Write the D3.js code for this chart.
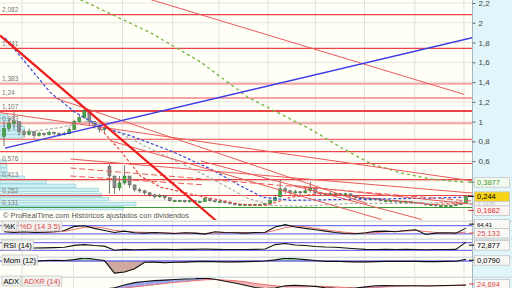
<!DOCTYPE html>
<html>
<head>
  <meta charset="UTF-8">
  <style>
    body { margin: 0; background: #fff; }
    svg { display: block; font-family: "Liberation Sans", Arial, sans-serif; }
  </style>
</head>
<body>
  <svg></svg>
  <script src="https://d3js.org/d3.v7.min.js"></script>
  <script>

    // ---- price data (one candle every ~5px) ----
    let opens = [0.85,0.93,0.98,1.0,0.9,0.87,0.9,0.86,0.88,0.87,
      0.89,0.88,0.87,0.88,0.92,1.0,1.04,1.11,1.0,0.96,
      0.92,0.55,0.45,0.33,0.38,0.45,0.36,0.31,0.3,0.28,
      0.26,0.24,0.25,0.23,0.2,0.2,0.2,0.19,0.2,0.19,
      0.19,0.22,0.2,0.19,0.19,0.18,0.17,0.16,0.16,0.16,
      0.16,0.16,0.16,0.17,0.2,0.24,0.32,0.3,0.28,0.29,
      0.28,0.3,0.33,0.28,0.27,0.27,0.27,0.27,0.26,0.27,
      0.25,0.23,0.22,0.21,0.22,0.21,0.2,0.2,0.2,0.19,
      0.19,0.19,0.18,0.18,0.17,0.16,0.16,0.15,0.15,0.15,
      0.15,0.16,0.17];
    let highs = [1.0,1.03,1.1,0.98,0.92,0.93,0.9,0.9,0.89,0.91,
      0.9,0.89,0.9,0.95,1.02,1.07,1.14,1.08,1.0,0.96,
      0.95,0.57,0.42,0.45,0.56,0.43,0.36,0.33,0.31,0.29,
      0.27,0.27,0.25,0.23,0.21,0.21,0.21,0.21,0.2,0.2,
      0.24,0.22,0.2,0.2,0.19,0.18,0.17,0.17,0.17,0.17,
      0.17,0.17,0.18,0.22,0.26,0.41,0.34,0.31,0.31,0.3,
      0.33,0.39,0.31,0.29,0.28,0.29,0.28,0.28,0.28,0.27,
      0.25,0.24,0.23,0.23,0.22,0.22,0.21,0.21,0.2,0.2,
      0.2,0.19,0.19,0.18,0.17,0.17,0.16,0.16,0.16,0.16,
      0.17,0.18,0.25];
    let lows = [0.75,0.9,0.92,0.86,0.84,0.86,0.83,0.85,0.85,0.86,
      0.86,0.85,0.86,0.87,0.92,0.99,1.03,0.96,0.93,0.89,
      0.88,0.27,0.27,0.3,0.36,0.33,0.29,0.28,0.26,0.24,
      0.22,0.23,0.21,0.19,0.19,0.19,0.18,0.18,0.18,0.18,
      0.19,0.19,0.18,0.18,0.17,0.16,0.15,0.15,0.15,0.15,
      0.15,0.15,0.15,0.16,0.2,0.23,0.27,0.26,0.27,0.26,
      0.27,0.28,0.26,0.25,0.25,0.26,0.25,0.25,0.25,0.23,
      0.21,0.21,0.2,0.2,0.2,0.19,0.19,0.18,0.18,0.18,
      0.18,0.17,0.17,0.16,0.15,0.15,0.14,0.14,0.14,0.14,
      0.15,0.16,0.17];
    let closes = [0.93,0.98,1.0,0.9,0.87,0.9,0.86,0.88,0.87,0.89,
      0.88,0.87,0.88,0.92,1.0,1.04,1.11,1.0,0.96,0.92,
      0.93,0.45,0.33,0.38,0.45,0.36,0.31,0.3,0.28,0.26,
      0.24,0.25,0.23,0.2,0.2,0.2,0.19,0.2,0.19,0.19,
      0.22,0.2,0.19,0.19,0.18,0.17,0.16,0.16,0.16,0.16,
      0.16,0.16,0.17,0.2,0.23,0.32,0.3,0.28,0.29,0.28,
      0.3,0.33,0.28,0.27,0.27,0.27,0.27,0.26,0.27,0.25,
      0.23,0.22,0.21,0.22,0.21,0.2,0.2,0.2,0.19,0.19,
      0.19,0.18,0.18,0.17,0.16,0.16,0.15,0.15,0.15,0.15,
      0.16,0.17,0.244];

    // moving averages [candle index, price]
    let maGreen = [[15.2,2.235],[29.2,1.898],[39.2,1.602],[48.6,1.245],[61.2,0.918],[67.2,0.735],[73.2,0.571],[79.2,0.48],[85.2,0.418],[91.6,0.388]];
    let maBlue = [[0.2,1.847],[4.2,1.602],[9.2,1.296],[14.2,1.092],[19.2,0.949],[25.2,0.857],[33.2,0.704],[41.2,0.52],[47.2,0.347],[51.6,0.235],[57.2,0.204],[69.2,0.214],[83.2,0.224],[91.6,0.235]];
    let maGray = [[3.2,0.888],[11.2,0.939],[17.2,1.01],[21.2,0.929],[29.2,0.724],[39.2,0.48],[48.6,0.224],[53.2,0.153],[59.2,0.143],[69.2,0.173],[83.2,0.173],[91.6,0.194]];
    let maRed = [[19.2,0.929],[23.2,0.704],[27.2,0.449],[31.2,0.337],[39.2,0.245],[47.2,0.163],[52.2,0.153],[57.2,0.235],[63.2,0.276],[71.2,0.235],[79.2,0.194],[85.2,0.163],[91.6,0.173]];

    // trend lines [i0, v0, i1, v1]
    let thickTrend = [-0.8, 1.872, 42.2, 0.0];
    let blueTrend = [0.2, 0.733, 93.6, 1.853];
    let redTrends = [
      [29.2, 2.235, 91.6, 1.276],
      [-0.8, 1.092, 93.6, 0.398],
      [9.8, 1.245, 72.2, 0.173],
      [13.2, 0.622, 93.6, 0.276],
      [21.2, 0.806, 75.2, 0.01],
      [39.2, 0.602, 83.2, 0.01],
      [57.2, 0.357, 93.6, 0.163]
    ];
    let dashedTrends = [
      [13.2, 0.531, 93.6, 0.194],
      [13.2, 0.45, 40, 0.36]
    ];

    // horizontal levels
    let levelVals = [2.082, 1.741, 1.383, 1.24, 1.107, 0.983, 0.821, 0.697, 0.576, 0.413, 0.252, 0.131];
    let levelLabels = ["2,082", "1,741", "1,383", "1,24", "1,107", "0,983", "", "", "0,576", "0,413", "0,252", "0,131"];
    let paleLevels = [1.383, 1.24, 0.983];
    let majorLevels = [1.107];
    let supportLevels = [0.131];

    // volume profile (bin low price, volume)
    let vpStep = 0.041;
    let vpLow = [0.102, 0.143, 0.194, 0.235, 0.286, 0.327, 0.367, 0.408, 0.449, 0.49, 0.531, 0.571, 0.827, 0.867, 0.908, 0.949, 0.99, 1.031];
    let vpVol = [125, 138, 110, 103, 100, 77, 47, 25, 8, 7, 7, 6, 23, 20, 25, 22, 10, 8];

    let yTicks = [0.6, 0.8, 1, 1.2, 1.4, 1.6, 1.8, 2, 2.2];
    let yGrid = [0.2, 0.4, 0.6, 0.8, 1, 1.2, 1.4, 1.6, 1.8, 2, 2.2];
    let gridIdx = [3.6, 13.8, 23.6, 33.6, 42.8, 52.6, 62, 71.8, 81.8, 91.6];

    // indicators (one value every 2 candles)
    let stochK = [35,30,35,30,32,35,45,75,80,60, 45,30,40,28,25,30,26,22,28,25, 18,35,30,28,25,30,32,70,88,70, 60,50,40,30,22,20,28,38,40,35, 45,50,15,25,28,25,62];
    let stochD = [38,33,32,33,31,33,38,52,68,72, 62,45,38,33,31,27,27,24,25,25, 22,26,28,31,28,27,29,45,65,76, 73,60,50,40,31,24,22,29,35,38, 40,45,37,30,23,26,33];
    let rsi = [45,48,42,42,43,44,46,56,60,55, 52,30,35,33,34,35,35,34,35,35, 37,35,34,34,34,35,37,60,66,58, 55,50,47,46,42,38,35,34,35,34, 35,34,33,34,34,35,72.9];
    let mom = [0.02,0.03,0.0,-0.02,0.02,0.03,0.02,0.06,0.14,0.08, 0.02,-0.55,-0.5,-0.35,-0.06,-0.05,-0.08,-0.06,-0.05,-0.03, -0.02,-0.03,-0.04,-0.04,-0.03,-0.02,0.0,0.05,0.12,0.1, 0.06,0.02,-0.02,-0.01,-0.03,-0.04,-0.04,-0.03,-0.02,-0.02, -0.01,-0.02,-0.03,-0.03,-0.02,-0.01,0.079];
    let adx = [10,10,10,10,10,10,10,10,10,10, 10,15,25,33,37,40,42,44,46,47, 49,45,38,32,24,16,12,14,22,24, 22,20,15,13,12,14,18,22,23,22, 22,22,21,22,23,24,24.7];
    let adxr = [10,10,10,10,10,10,10,10,10,10, 10,12,14,18,22,26,30,34,37,40, 43,44,42,40,36,30,26,22,18,18, 18,20,20,18,16,14,14,16,18,20, 21,22,22,22,22,23,24];

    let priceTags = [
      { v: 0.3877, text: "0,3877", color: "#3c9a2c", fill: "#f4fbef" },
      { v: 0.244, text: "0,244", color: "#000", fill: "#f7d417" },
      { v: 0.1935, text: "0,1935", color: "#bbb", fill: "#f6f6f6" },
      { v: 0.1682, text: "0,1682", color: "#e03030", fill: "#fdf3f3" }
    ];

    // ---- layout ----
    let width = 512, height = 288, axisX = 472;
    let comma = d => String(d).replace(".", ",");

    let svg = d3.select("svg").attr("width", width).attr("height", height);
    let defs = svg.append("defs");

    let x = d3.scaleLinear().domain([0, 92]).range([4, 466]);
    let xi = k => x(k * 2);
    let y = d3.scaleLinear().domain([0.1, 2.2]).range([210.6, 3.0]);

    let panels = {
      main: [0, 220], stoch: [222, 238], rsi: [240, 256], mom: [258, 276], adx: [278, 288]
    };
    Object.entries(panels).forEach(([k, p]) => {
      defs.append("clipPath").attr("id", "clip-" + k)
        .append("rect").attr("x", 0).attr("y", p[0]).attr("width", axisX).attr("height", p[1] - p[0]);
    });

    svg.append("rect").attr("width", width).attr("height", height).attr("fill", "#fffff7");
    svg.append("rect").attr("x", axisX).attr("width", width - axisX).attr("height", height).attr("fill", "#e0f6fa");

    // panel separators
    [221, 239, 257, 277].forEach(s => {
      svg.append("rect").attr("x", 0).attr("y", s - 0.5).attr("width", width).attr("height", 1.5).attr("fill", "#d4dde2");
    });

    // vertical grid
    svg.append("g").selectAll("line").data(gridIdx).enter().append("line")
      .attr("x1", d => x(d)).attr("x2", d => x(d)).attr("y1", 0).attr("y2", height)
      .attr("stroke", "#e2e2dc").attr("stroke-width", 1);

    // ---- main panel ----
    let main = svg.append("g").attr("clip-path", "url(#clip-main)");

    main.append("g").selectAll("line").data(yGrid).enter().append("line")
      .attr("x1", 0).attr("x2", axisX).attr("y1", d => y(d)).attr("y2", d => y(d))
      .attr("stroke", "#e6e6e0");

    let vpX = d3.scaleLinear().domain([0, 140]).range([0, 138]);
    main.append("g").selectAll("rect").data(vpLow).enter().append("rect")
      .attr("x", 0).attr("y", d => y(d + vpStep))
      .attr("width", (d, i) => vpX(vpVol[i]))
      .attr("height", d => y(d) - y(d + vpStep) - 0.6)
      .attr("fill", "#cdf0f5").attr("stroke", "#93cfd8").attr("stroke-width", 0.7);

    main.append("g").selectAll("line").data(levelVals).enter().append("line")
      .attr("x1", 0).attr("x2", axisX).attr("y1", d => y(d)).attr("y2", d => y(d))
      .attr("stroke", d => supportLevels.includes(d) ? "#3a9a3a" : paleLevels.includes(d) ? "#f4a4a4" : "#ec4444")
      .attr("stroke-width", d => majorLevels.includes(d) ? 2 : paleLevels.includes(d) ? 2 : 1.1);

    main.append("g").selectAll("text").data(levelVals).enter().append("text")
      .attr("x", 2).attr("y", d => y(d) - 2.5)
      .attr("font-size", 6.5).attr("fill", "#777")
      .text((d, i) => levelLabels[i]);

    // candles
    let candles = main.append("g");
    closes.forEach((c, i) => {
      let up = c >= opens[i];
      candles.append("line")
        .attr("x1", x(i)).attr("x2", x(i)).attr("y1", y(highs[i])).attr("y2", y(lows[i]))
        .attr("stroke", "#555").attr("stroke-width", 0.8);
      candles.append("rect")
        .attr("x", x(i) - 1.5).attr("width", 3)
        .attr("y", y(Math.max(c, opens[i])))
        .attr("height", Math.max(1, Math.abs(y(c) - y(opens[i]))))
        .attr("fill", up ? "#45a845" : "#8a8a8a")
        .attr("stroke", up ? "#2f6f2f" : "#555").attr("stroke-width", 0.5);
    });

    let pline = d3.line().x(d => x(d[0])).y(d => y(d[1]));
    let seg = t => pline([[t[0], t[1]], [t[2], t[3]]]);

    main.append("path").attr("d", pline(maGray)).attr("fill", "none")
      .attr("stroke", "#b0b0b0").attr("stroke-width", 1.2).attr("stroke-dasharray", "3,2");
    main.append("path").attr("d", pline(maRed)).attr("fill", "none")
      .attr("stroke", "#e84848").attr("stroke-width", 1.2).attr("stroke-dasharray", "3,2");
    main.append("path").attr("d", pline(maBlue)).attr("fill", "none")
      .attr("stroke", "#3848d8").attr("stroke-width", 1.2).attr("stroke-dasharray", "3,2");
    main.append("path").attr("d", pline(maGreen)).attr("fill", "none")
      .attr("stroke", "#7ab648").attr("stroke-width", 1.4).attr("stroke-dasharray", "3,3");

    redTrends.forEach(t => {
      main.append("path").attr("d", seg(t)).attr("stroke", "#ec5a5a").attr("stroke-width", 1).attr("fill", "none");
    });
    dashedTrends.forEach(t => {
      main.append("path").attr("d", seg(t)).attr("stroke", "#ec5a5a").attr("stroke-width", 1)
        .attr("stroke-dasharray", "6,3").attr("fill", "none");
    });
    main.append("path").attr("d", seg(blueTrend)).attr("stroke", "#3a3ae8").attr("stroke-width", 1.3).attr("fill", "none");
    main.append("path").attr("d", seg(thickTrend)).attr("stroke", "#ee1c1c").attr("stroke-width", 2.2).attr("fill", "none");

    main.append("text").attr("x", 3).attr("y", 217.5)
      .attr("font-size", 7.4).attr("fill", "#555")
      .text("© ProRealTime.com  Históricos ajustados con dividendos");

    // right axis
    svg.append("line").attr("x1", axisX + 0.5).attr("x2", axisX + 0.5).attr("y1", 0).attr("y2", height)
      .attr("stroke", "#a8b4b8");
    let axis = svg.append("g").attr("transform", "translate(" + (axisX + 0.5) + ",0)")
      .call(d3.axisRight(y).tickValues(yTicks).tickSize(3).tickFormat(comma));
    axis.select(".domain").remove();
    axis.selectAll("line").attr("stroke", "#666");
    axis.selectAll("text").attr("font-size", 8).attr("fill", "#444").attr("font-family", "Liberation Sans, Arial, sans-serif");

    // price tags (spread so they overlap only slightly)
    let tagY = [];
    priceTags.forEach((t, i) => {
      tagY.push(i === 0 ? y(t.v) : Math.max(y(t.v), tagY[i - 1] + 7));
    });
    let tag = (yy, text, color, fill, fs) => {
      let g = svg.append("g");
      g.append("rect").attr("x", axisX + 2.5).attr("y", yy - 4.5).attr("width", 35).attr("height", 9.5)
        .attr("fill", fill).attr("stroke", "#c4c4c4").attr("stroke-width", 0.8);
      g.append("line").attr("x1", axisX - 4).attr("x2", axisX + 2).attr("y1", yy).attr("y2", yy)
        .attr("stroke", color).attr("stroke-width", 1);
      g.append("text").attr("x", axisX + 5).attr("y", yy + 2.6).attr("font-size", fs || 7.5)
        .attr("fill", color).text(text);
    };
    tag(tagY[2], priceTags[2].text, priceTags[2].color, priceTags[2].fill, 6);
    [3, 1, 0].forEach(i => tag(tagY[i], priceTags[i].text, priceTags[i].color, priceTags[i].fill));

    // ---- lower panels ----
    let labelBox = (g, x0, yy, text, color) => {
      let r = g.append("rect").attr("x", x0).attr("y", yy - 5).attr("height", 10)
        .attr("fill", "#f1f1ee").attr("stroke", "#c8c8c8").attr("stroke-width", 0.8);
      let t = g.append("text").attr("x", x0 + 1.5).attr("y", yy + 3).attr("font-size", 7.6)
        .attr("fill", color).text(text);
      let w = t.node().getComputedTextLength() + 3;
      r.attr("width", w);
      return x0 + w + 1.5;
    };
    let levelLine = (g, sc, v) => {
      g.append("line").attr("x1", 0).attr("x2", axisX).attr("y1", sc(v)).attr("y2", sc(v))
        .attr("stroke", "#7474ee").attr("stroke-width", 1.3);
    };
    let iline = sc => d3.line().x((d, i) => xi(i)).y(d => sc(d));

    // stochastic
    let ySt = d3.scaleLinear().domain([0, 100]).range([236.5, 223]);
    let gSt = svg.append("g").attr("clip-path", "url(#clip-stoch)");
    levelLine(gSt, ySt, 80); levelLine(gSt, ySt, 20);
    gSt.append("path").attr("d", iline(ySt)(stochD)).attr("fill", "none").attr("stroke", "#ee7070").attr("stroke-width", 1);
    gSt.append("path").attr("d", iline(ySt)(stochK)).attr("fill", "none").attr("stroke", "#111").attr("stroke-width", 1.1);
    let nx = labelBox(svg, 2, 226, "%K", "#000");
    labelBox(svg, nx, 226, "%D (14 3 5)", "#e04848");

    // rsi
    let yR = d3.scaleLinear().domain([0, 100]).range([256, 237]);
    let gR = svg.append("g").attr("clip-path", "url(#clip-rsi)");
    levelLine(gR, yR, 70); levelLine(gR, yR, 30);
    gR.append("path").attr("d", iline(yR)(rsi)).attr("fill", "none").attr("stroke", "#111").attr("stroke-width", 1.1);
    labelBox(svg, 2, 245, "RSI (14)", "#000");

    // momentum
    let yM = d3.scaleLinear().domain([-0.68, 0.18]).range([276, 257]);
    let gM = svg.append("g").attr("clip-path", "url(#clip-mom)");
    defs.append("clipPath").attr("id", "mom-pos").append("rect")
      .attr("x", 0).attr("y", 250).attr("width", axisX).attr("height", yM(0) - 250);
    defs.append("clipPath").attr("id", "mom-neg").append("rect")
      .attr("x", 0).attr("y", yM(0)).attr("width", axisX).attr("height", 290 - yM(0));
    let momArea = d3.area().x((d, i) => xi(i)).y0(yM(0)).y1(d => yM(d));
    gM.append("g").attr("clip-path", "url(#mom-pos)").append("path").attr("d", momArea(mom))
      .attr("fill", "#98d890");
    gM.append("g").attr("clip-path", "url(#mom-neg)").append("path").attr("d", momArea(mom))
      .attr("fill", "#cfa8a0").attr("stroke", "#b08078").attr("stroke-width", 0.6);
    levelLine(gM, yM, 0);
    gM.append("path").attr("d", iline(yM)(mom)).attr("fill", "none").attr("stroke", "#111").attr("stroke-width", 1.1);
    labelBox(svg, 2, 260, "Mom (12)", "#000");

    // adx
    let yA = d3.scaleLinear().domain([0, 60]).range([292, 275]);
    let gA = svg.append("g").attr("clip-path", "url(#clip-adx)");
    adx.forEach((d, i) => {
      if (i === 0) return;
      let pts = [[xi(i - 1), yA(adx[i - 1])], [xi(i), yA(d)], [xi(i), yA(adxr[i])], [xi(i - 1), yA(adxr[i - 1])]];
      let above = (d + adx[i - 1]) >= (adxr[i] + adxr[i - 1]);
      gA.append("path").attr("d", "M" + pts.join("L") + "Z")
        .attr("fill", above ? "#9aa6ec" : "#f0b4b4");
    });
    gA.append("path").attr("d", iline(yA)(adxr)).attr("fill", "none").attr("stroke", "#ee7070").attr("stroke-width", 1);
    gA.append("path").attr("d", iline(yA)(adx)).attr("fill", "none").attr("stroke", "#111").attr("stroke-width", 1.1);
    nx = labelBox(svg, 2, 281, "ADX", "#000");
    labelBox(svg, nx, 281, "ADXR (14)", "#e04848");

    // lower value tags
    let vtag = (yy, text, color, fs) => {
      svg.append("rect").attr("x", axisX + 2.5).attr("y", yy - 4.5).attr("width", 35).attr("height", 9.5)
        .attr("fill", "#f8f8f6").attr("stroke", "#c4c4c4").attr("stroke-width", 0.8);
      svg.append("line").attr("x1", axisX - 3).attr("x2", axisX + 2).attr("y1", yy).attr("y2", yy)
        .attr("stroke", color);
      svg.append("text").attr("x", axisX + 5).attr("y", yy + 2.6).attr("font-size", fs || 7.5)
        .attr("fill", color).text(text);
    };
    vtag(ySt(stochK[stochK.length - 1]) - 4, comma(64.41), "#000", 6);
    vtag(ySt(stochD[stochD.length - 1]) + 1, "25,133", "#e04848");
    vtag(yR(rsi[rsi.length - 1]) + 3, "72,877", "#000");
    vtag(yM(mom[mom.length - 1]) + 1, "0,0790", "#000");
    vtag(yA(adx[adx.length - 1]) - 1, "24,694", "#e04848");

  </script>
</body>
</html>
